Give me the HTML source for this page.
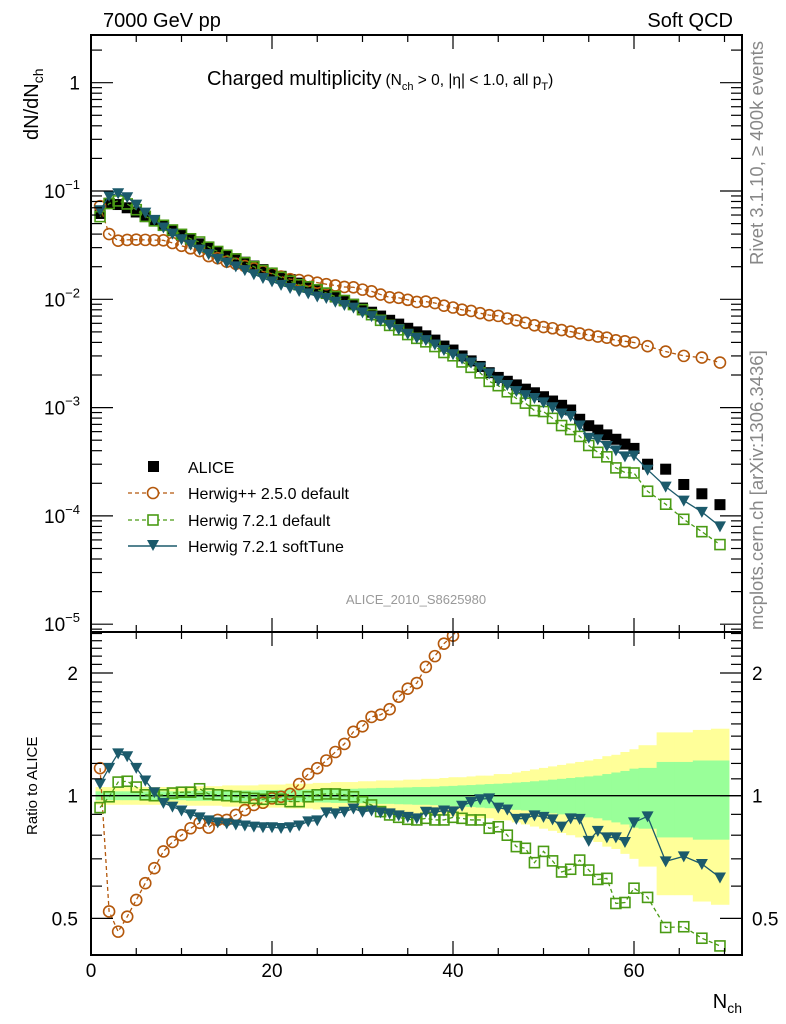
<!DOCTYPE html>
<html><head><meta charset="utf-8">
<style>
html,body{margin:0;padding:0;background:#fff;}
svg{display:block;font-family:"Liberation Sans",sans-serif;}
</style></head>
<body>
<svg id="chart" width="786" height="1024" viewBox="0 0 786 1024" xmlns="http://www.w3.org/2000/svg">
<defs>
<clipPath id="clipMain"><rect x="91" y="35" width="651" height="597"/></clipPath>
<clipPath id="clipRatio"><rect x="91" y="632" width="651" height="323"/></clipPath>
</defs>
<g id="bands" clip-path="url(#clipRatio)"></g>
<g id="marks"></g>
<g id="axes"></g>
<rect x="91" y="35" width="651" height="597" fill="none" stroke="#000" stroke-width="2"/>
<rect x="91" y="632" width="651" height="323" fill="none" stroke="#000" stroke-width="2"/>
<text x="103" y="27" font-size="20">7000 GeV pp</text>
<text x="733" y="27" font-size="20" text-anchor="end">Soft QCD</text>
<text x="207" y="85" font-size="20">Charged multiplicity<tspan font-size="15.5" dx="4">(N</tspan><tspan font-size="11" dy="5">ch</tspan><tspan font-size="15.5" dy="-5"> &gt; 0, |η| &lt; 1.0, all p</tspan><tspan font-size="11" dy="5">T</tspan><tspan font-size="15.5" dy="-5">)</tspan></text>
<text transform="translate(38,140) rotate(-90)" font-size="20">dN/dN<tspan font-size="14" dy="5">ch</tspan></text>
<text transform="translate(37,835) rotate(-90)" font-size="15">Ratio to ALICE</text>
<text x="742" y="1008" font-size="20" text-anchor="end">N<tspan font-size="14" dy="5">ch</tspan></text>
<text transform="translate(763,265) rotate(-90)" font-size="18.5" fill="#888">Rivet 3.1.10, ≥ 400k events</text>
<text transform="translate(763,630) rotate(-90)" font-size="18.5" fill="#888">mcplots.cern.ch [arXiv:1306.3436]</text>
<text x="416" y="604" font-size="13" fill="#999" text-anchor="middle">ALICE_2010_S8625980</text>
<g id="legend">
<g>
<rect x="148" y="461" width="11" height="11" fill="#000"/>
<text x="188" y="473" font-size="16">ALICE</text></g>
<g>
<line x1="128" y1="493" x2="177" y2="493" stroke="#b4580c" stroke-width="1.3" stroke-dasharray="4,3"/>
<circle cx="153" cy="493" r="5.5" fill="#fff" stroke="#b4580c" stroke-width="1.6"/>
<text x="188" y="499" font-size="16">Herwig++ 2.5.0 default</text></g>
<g>
<line x1="128" y1="520" x2="177" y2="520" stroke="#4a9b14" stroke-width="1.3" stroke-dasharray="4,3"/>
<rect x="148" y="515" width="10" height="10" fill="#fff" stroke="#4a9b14" stroke-width="1.6"/>
<text x="188" y="526" font-size="16">Herwig 7.2.1 default</text></g>
<g>
<line x1="128" y1="546" x2="177" y2="546" stroke="#1b5a6b" stroke-width="1.5"/>
<path d="M147,540 L159,540 L153,551 Z" fill="#1b5a6b"/>
<text x="188" y="552" font-size="16">Herwig 7.2.1 softTune</text></g>
</g>
</svg>
<script>
// ---- data ----
const nch = [1,2,3,4,5,6,7,8,9,10,11,12,13,14,15,16,17,18,19,20,21,22,23,24,25,26,27,28,29,30,31,32,33,34,35,36,37,38,39,40,41,42,43,44,45,46,47,48,49,50,51,52,53,54,55,56,57,58,59,60,61.5,63.5,65.5,67.5,69.5];
const binLo = [0.5,1.5,2.5,3.5,4.5,5.5,6.5,7.5,8.5,9.5,10.5,11.5,12.5,13.5,14.5,15.5,16.5,17.5,18.5,19.5,20.5,21.5,22.5,23.5,24.5,25.5,26.5,27.5,28.5,29.5,30.5,31.5,32.5,33.5,34.5,35.5,36.5,37.5,38.5,39.5,40.5,41.5,42.5,43.5,44.5,45.5,46.5,47.5,48.5,49.5,50.5,51.5,52.5,53.5,54.5,55.5,56.5,57.5,58.5,59.5,60.5,62.5,64.5,66.5,68.5];
const binHi = [1.5,2.5,3.5,4.5,5.5,6.5,7.5,8.5,9.5,10.5,11.5,12.5,13.5,14.5,15.5,16.5,17.5,18.5,19.5,20.5,21.5,22.5,23.5,24.5,25.5,26.5,27.5,28.5,29.5,30.5,31.5,32.5,33.5,34.5,35.5,36.5,37.5,38.5,39.5,40.5,41.5,42.5,43.5,44.5,45.5,46.5,47.5,48.5,49.5,50.5,51.5,52.5,53.5,54.5,55.5,56.5,57.5,58.5,59.5,60.5,62.5,64.5,66.5,68.5,70.5];
const alice = [0.062,0.077,0.075,0.070,0.064,0.058,0.053,0.048,0.043,0.039,0.0355,0.0325,0.030,0.0275,0.0255,0.0237,0.0220,0.0203,0.0188,0.0175,0.0163,0.0152,0.0141,0.0131,0.0122,0.0113,0.0105,0.0097,0.0090,0.0083,0.0076,0.0070,0.0064,0.0059,0.0054,0.0050,0.0046,0.0042,0.0037,0.0034,0.0030,0.0027,0.0024,0.0021,0.0019,0.00175,0.00162,0.00148,0.00137,0.00126,0.00115,0.00105,0.00095,0.00078,0.00068,0.00062,0.00056,0.00051,0.00046,0.00042,0.00030,0.00027,0.000195,0.00016,0.000127];
const ratioHerwigPP = [1.168,0.52,0.464,0.505,0.555,0.61,0.664,0.73,0.77,0.80,0.832,0.858,0.835,0.872,0.872,0.897,0.922,0.949,0.961,0.985,0.994,1.01,1.068,1.13,1.168,1.22,1.28,1.34,1.435,1.48,1.56,1.58,1.63,1.75,1.83,1.89,2.07,2.2,2.36,2.47,2.67,2.89,3.1,3.4,3.7,3.8,3.95,4.1,4.2,4.4,4.7,4.95,5.3,6.2,6.9,7.3,7.9,8.2,8.9,9.5,12.3,12.2,15.4,18.1,20.5];
const ratioH721 = [0.935,0.994,1.08,1.085,1.05,1.005,1.0,1.005,1.015,1.02,1.02,1.04,1.01,1.005,1.0,0.995,0.99,0.985,0.98,0.994,0.98,0.967,0.967,0.994,1.005,1.01,1.01,1.005,0.994,0.967,0.949,0.914,0.897,0.885,0.875,0.872,0.88,0.872,0.872,0.885,0.88,0.872,0.872,0.832,0.839,0.80,0.75,0.743,0.685,0.73,0.692,0.65,0.66,0.695,0.657,0.623,0.627,0.544,0.547,0.593,0.563,0.475,0.477,0.447,0.428];
const ratioSoft = [1.07,1.17,1.27,1.25,1.17,1.09,1.02,0.96,0.94,0.92,0.90,0.885,0.87,0.86,0.855,0.85,0.845,0.84,0.837,0.837,0.833,0.837,0.845,0.865,0.87,0.91,0.905,0.913,0.93,0.913,0.92,0.91,0.905,0.895,0.887,0.88,0.913,0.91,0.92,0.915,0.945,0.965,0.98,0.985,0.935,0.925,0.877,0.88,0.895,0.887,0.875,0.84,0.88,0.877,0.775,0.82,0.79,0.79,0.77,0.86,0.89,0.69,0.71,0.68,0.63];
const bandOuter = [0.05,0.05,0.05,0.05,0.05,0.05,0.05,0.05,0.05,0.05,0.055,0.055,0.055,0.055,0.06,0.06,0.06,0.06,0.065,0.065,0.065,0.07,0.07,0.07,0.075,0.075,0.08,0.08,0.08,0.085,0.085,0.09,0.09,0.09,0.095,0.095,0.10,0.10,0.105,0.11,0.11,0.115,0.12,0.12,0.13,0.13,0.14,0.15,0.16,0.17,0.18,0.19,0.20,0.21,0.22,0.23,0.25,0.26,0.28,0.30,0.33,0.43,0.43,0.45,0.46];
const bandInner = [0.025,0.025,0.025,0.025,0.025,0.025,0.025,0.025,0.025,0.025,0.028,0.028,0.028,0.028,0.03,0.03,0.03,0.03,0.032,0.032,0.033,0.035,0.035,0.035,0.037,0.038,0.04,0.04,0.04,0.042,0.043,0.045,0.045,0.047,0.048,0.05,0.05,0.052,0.055,0.057,0.06,0.062,0.065,0.068,0.07,0.073,0.077,0.08,0.085,0.09,0.095,0.10,0.105,0.11,0.115,0.12,0.13,0.14,0.15,0.165,0.17,0.21,0.21,0.22,0.22];
const xTicks = [0,20,40,60];
const ratioTicks = [0.5,1,2];
const ratioTickLabels = ["0.5","1","2"];
const mainDecades = [0,-1,-2,-3,-4,-5];

// ---- scales ----
const X0 = 91, XS = 9.05;
function xs(n){ return X0 + XS*n; }
function ym(v){ return 82.7 - 108.3*Math.log10(v); }
function yr(r){ return 795.7 - 122.7*Math.log2(r); }
const NS = 'http://www.w3.org/2000/svg';
function mk(tag, attrs, parent){
  const e = document.createElementNS(NS, tag);
  for (const k in attrs) e.setAttribute(k, attrs[k]);
  parent.appendChild(e); return e;
}
const marks = document.getElementById('marks');
const axes = document.getElementById('axes');
const bands = document.getElementById('bands');

for (let i=0;i<nch.length;i++){
  const x1 = xs(binLo[i]), x2 = xs(binHi[i]);
  const y = mk('rect',{x:x1,y:yr(1+bandOuter[i]),width:x2-x1+0.4,height:yr(1-bandOuter[i])-yr(1+bandOuter[i]),fill:'#ffff99'},bands);
  
  
}
for (let i=0;i<nch.length;i++){
  const x1 = xs(binLo[i]), x2 = xs(binHi[i]);
  const g = mk('rect',{x:x1,y:yr(1+bandInner[i]),width:x2-x1+0.4,height:yr(1-bandInner[i])-yr(1+bandInner[i]),fill:'#99ff99'},bands);
  
  
}
const unity = mk('line',{x1:91,y1:yr(1),x2:742,y2:yr(1),stroke:'#000','stroke-width':1.3},bands);



const gMain = mk('g',{'clip-path':'url(#clipMain)'},marks);


const gRatio = mk('g',{'clip-path':'url(#clipRatio)'},marks);



function marker(kind, cx, cy, color, parent){
  let e;
  if (kind==='circle') e = mk('circle',{cx:cx,cy:cy,r:5.5,fill:'none',stroke:color,'stroke-width':1.6},parent);
  else if (kind==='square') e = mk('rect',{x:cx-5,y:cy-5,width:10,height:10,fill:'none',stroke:color,'stroke-width':1.6},parent);
  else if (kind==='tri') e = mk('path',{d:`M${cx-6},${cy-5} L${cx+6},${cy-5} L${cx},${cy+6} Z`,fill:color},parent);
  else e = mk('rect',{x:cx-5.5,y:cy-5.5,width:11,height:11,fill:color},parent);
  return e;
}
function series(name, ratios, kind, color, dash){
  const ptsM = [], ptsR = [];
  for (let i=0;i<nch.length;i++){
    ptsM.push([xs(nch[i]), ym(alice[i]*ratios[i])]);
    ptsR.push([xs(nch[i]), yr(ratios[i])]);
  }
  [[ptsM,gMain,'main'],[ptsR,gRatio,'ratio']].forEach(([pts,par,pn])=>{
    const l = mk('polyline',{points:pts.map(p=>p.join(',')).join(' '),fill:'none',stroke:color,'stroke-width':1.3},par);
    if (dash) l.setAttribute('stroke-dasharray',dash);
    
    
    pts.forEach(p=>{
      const m = marker(kind,p[0],p[1],color,par);
      
      
    });
  });
}
for (let i=0;i<nch.length;i++){
  const m = marker('fill', xs(nch[i]), ym(alice[i]), '#000', gMain);
  
  
}
series('herwigpp-250', ratioHerwigPP, 'circle', '#b4580c', '4,3');
series('herwig-721-default', ratioH721, 'square', '#4a9b14', '4,3');
series('herwig-721-softtune', ratioSoft, 'tri', '#1b5a6b', null);

// ---- axes ----
function tick(x1,y1,x2,y2){ const t=mk('line',{x1:x1,y1:y1,x2:x2,y2:y2,stroke:'#000','stroke-width':1.2},axes);
    }
for (let n=0;n<=70;n+=5){
  const major = xTicks.indexOf(n)>=0;
  const L = major?14:7;
  tick(xs(n),955,xs(n),955-L); tick(xs(n),632,xs(n),632+L);
  tick(xs(n),632,xs(n),632-L); tick(xs(n),35,xs(n),35+L);
}
xTicks.forEach(n=>{
  const t = mk('text',{x:xs(n),y:977,'font-size':19,'text-anchor':'middle'},axes);
  t.textContent = String(n);
  
  
});
for (let d=-6; d<=0; d++){
  for (let k=1;k<=9;k++){
    const v = k*Math.pow(10,d), y = ym(v);
    if (y<35 || y>632) continue;
    const L = k===1?22:11;
    tick(91,y,91+L,y); tick(742,y,742-L,y);
  }
}
mainDecades.forEach(d=>{
  const y = ym(Math.pow(10,d));
  const t = mk('text',{x:80,y:y+7,'font-size':19,'text-anchor':'end'},axes);
  if (d===0) t.textContent='1';
  else { t.textContent='10'; const s=mk('tspan',{'font-size':13,dy:-9},t); s.textContent='\u2212'+(-d); }
  
  
});
for (let k=4;k<=25;k++){
  const r = k/10, y = yr(r);
  if (y<632 || y>955) continue;
  const major = (k===5||k===10||k===20);
  const L = major?22:11;
  tick(91,y,91+L,y); tick(742,y,742-L,y);
}
ratioTicks.forEach((r,i)=>{
  const y = yr(r);
  const a = mk('text',{x:78,y:y+7,'font-size':19,'text-anchor':'end'},axes);
  a.textContent = ratioTickLabels[i];
  
  
  const b = mk('text',{x:752,y:y+7,'font-size':19},axes);
  b.textContent = ratioTickLabels[i];
  
  
});
</script>
</body></html>
